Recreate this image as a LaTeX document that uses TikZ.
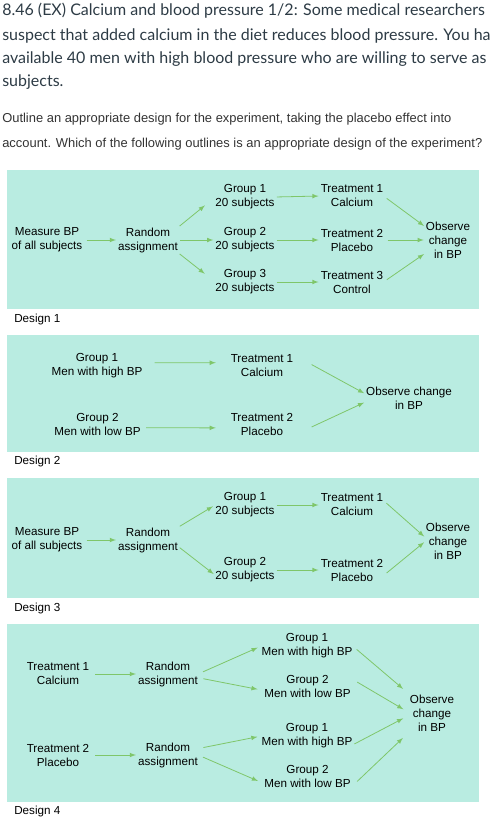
\documentclass[tikz,border=0pt]{standalone}
\usepackage{fontspec}
\setmainfont{Lato}
\newfontfamily\arialfont{Liberation Sans}
\usetikzlibrary{calc}
\definecolor{panelmint}{HTML}{B9ECE1}
\definecolor{arrowgreen}{HTML}{7FC66A}
\definecolor{headgray}{HTML}{2D3B45}
\newcommand
    {\panelbox}[2]
    {%
        \fill[panelmint] (7,#1) rectangle (479,#2);%
    }

\begin{document}
\begin{tikzpicture}[x=0.75pt,y=-0.75pt,
    txt/.style={align=center,inner sep=0pt,font=\arialfont\fontsize{8.75pt}{10.5pt}\selectfont},
    lbl/.style={anchor=base west,inner sep=0pt,font=\arialfont\fontsize{8.75pt}{10.5pt}\selectfont},
    qline/.style={anchor=base west,inner sep=0pt,text=headgray,font=\fontsize{12pt}{14pt}\selectfont},
    pline/.style={anchor=base west,inner sep=0pt,text=black!80,font=\arialfont\fontsize{9.7pt}{12pt}\selectfont},
    arr/.style={draw=arrowgreen,line width=0.6pt,-latex,shorten <=1.5pt,shorten >=1.5pt}]
        \useasboundingbox (0,0) rectangle (491,829);

        % 1. Question text
        \node (q1) at (2,15.7) [qline] {8.46 (EX) Calcium and blood pressure 1/2: Some medical researchers};
        \node (q2) at (2,40) [qline] {suspect that added calcium in the diet reduces blood pressure. You ha};
        \node (q3) at (2,63) [qline] {available 40 men with high blood pressure who are willing to serve as};
        \node (q4) at (2,86) [qline] {subjects.};
        \node (p1) at (2,122.7) [pline] {Outline an appropriate design for the experiment, taking the placebo effect into};
        \node (p2) at (2,147.7) [pline] {account. Which of the following outlines is an appropriate design of the experiment?};

        % 2. Design 1
        \panelbox{170}{309}
        \node (bp1) at (47,240) [txt] {Measure BP\\of all subjects};
        \node (ra1) at (148,240) [txt] {Random\\assignment};
        \node (gr1a) at (245,197) [txt] {Group 1\\20 subjects};
        \node (gr1b) at (245,240) [txt] {Group 2\\20 subjects};
        \node (gr1c) at (245,282) [txt] {Group 3\\20 subjects};
        \node (tr1a) at (352,196) [txt] {Treatment 1\\Calcium};
        \node (tr1b) at (352,240) [txt] {Treatment 2\\Placebo};
        \node (tr1c) at (352,282) [txt] {Treatment 3\\Control};
        \node (ob1) at (448,240) [txt] {Observe\\change\\in BP};
        \node (lb1) at (14,322) [lbl] {Design 1};

        \draw[arr, shorten <=3pt] (bp1.east) -- (ra1.west);
        \draw[arr, shorten >=10pt] (ra1.north east) -- (gr1a.west);
        \draw[arr] (ra1.east) -- (gr1b.west);
        \draw[arr, shorten >=10pt] (ra1.south east) -- (gr1c.west);
        \draw[arr] (gr1a.east) -- (tr1a.west);
        \draw[arr] (gr1b.east) -- (tr1b.west);
        \draw[arr] (gr1c.east) -- (tr1c.west);
        \draw[arr, shorten <=3pt] (tr1a.east) -- (ob1.150);
        \draw[arr, shorten <=3pt] (tr1b.east) -- (ob1.west);
        \draw[arr, shorten <=3pt] (tr1c.east) -- (ob1.210);

        % 3. Design 2
        \panelbox{335}{452}
        \node (gr2a) at (97,366) [txt] {Group 1\\Men with high BP};
        \node (gr2b) at (97.5,424) [txt] {Group 2\\Men with low BP};
        \node (tr2a) at (262,366) [txt] {Treatment 1\\Calcium};
        \node (tr2b) at (262,424) [txt] {Treatment 2\\Placebo};
        \node (ob2) at (409,398) [txt] {Observe change\\in BP};
        \node (lb2) at (14,464) [lbl] {Design 2};

        \draw[arr, shorten <=9pt, shorten >=11pt] (gr2a.4) -- (tr2a.174);
        \draw[arr, shorten <=4pt, shorten >=11pt] (gr2b.-5) -- (tr2b.187);
        \draw[arr, shorten <=15.5pt] (tr2a.north east) -- (ob2.175);
        \draw[arr, shorten <=15pt] (tr2b.south east) -- (ob2.185);

        % 4. Design 3
        \panelbox{478}{598}
        \node (bp3) at (47,540) [txt] {Measure BP\\of all subjects};
        \node (ra3) at (148,540) [txt] {Random\\assignment};
        \node (gr3a) at (245,505) [txt] {Group 1\\20 subjects};
        \node (gr3b) at (245,570) [txt] {Group 2\\20 subjects};
        \node (tr3a) at (352,505) [txt] {Treatment 1\\Calcium};
        \node (tr3b) at (352,570) [txt] {Treatment 2\\Placebo};
        \node (ob3) at (448,541) [txt] {Observe\\change\\in BP};
        \node (lb3) at (14,611) [lbl] {Design 3};

        \draw[arr, shorten <=3pt] (bp3.east) -- (ra3.west);
        \draw[arr, shorten >=2pt] (ra3.north east) -- (gr3a.west);
        \draw[arr] (ra3.-12) -- (gr3b.190);
        \draw[arr] (gr3a.east) -- (tr3a.west);
        \draw[arr] (gr3b.east) -- (tr3b.west);
        \draw[arr, shorten <=3pt] (tr3a.8) -- (ob3.172);
        \draw[arr, shorten <=3pt] (tr3b.-10) -- (ob3.west);

        % 5. Design 4
        \panelbox{624}{802}
        \node (tr4a) at (58,674) [txt] {Treatment 1\\Calcium};
        \node (tr4b) at (58,755) [txt] {Treatment 2\\Placebo};
        \node (ra4a) at (168,674) [txt] {Random\\assignment};
        \node (ra4b) at (168,755) [txt] {Random\\assignment};
        \node (gr4a) at (307,646) [txt] {Group 1\\Men with high BP};
        \node (gr4b) at (307.5,686) [txt] {Group 2\\Men with low BP};
        \node (gr4c) at (307,736) [txt] {Group 1\\Men with high BP};
        \node (gr4d) at (307.5,776) [txt] {Group 2\\Men with low BP};
        \node (ob4) at (432,713) [txt] {Observe\\change\\in BP};
        \node (lb4) at (14,814) [lbl] {Design 4};

        \draw[arr, shorten <=4.5pt] (tr4a.east) -- (ra4a.west);
        \draw[arr, shorten <=4.5pt] (tr4b.east) -- (ra4b.west);
        \draw[arr, shorten <=4pt, shorten >=3pt] (ra4a.east) -- (gr4a.west);
        \draw[arr, shorten <=4pt, shorten >=5pt] (ra4a.-7) -- (gr4b.186);
        \draw[arr, shorten <=4pt, shorten >=3pt] (ra4b.12) -- (gr4c.west);
        \draw[arr, shorten <=4pt, shorten >=5pt] (ra4b.east) -- (gr4d.190);
        \draw[arr, shorten <=4pt, shorten >=6.5pt] (gr4a.east) -- (ob4.north west);
        \draw[arr, shorten <=5.5pt, shorten >=5.5pt] (gr4b.10) -- (ob4.west);
        \draw[arr, shorten <=1.5pt, shorten >=5.5pt] (gr4c.-11) -- (ob4.185);
        \draw[arr, shorten <=6.5pt, shorten >=7pt] (gr4d.south east) -- (ob4.south west);
    \end{tikzpicture}
\end{document}
